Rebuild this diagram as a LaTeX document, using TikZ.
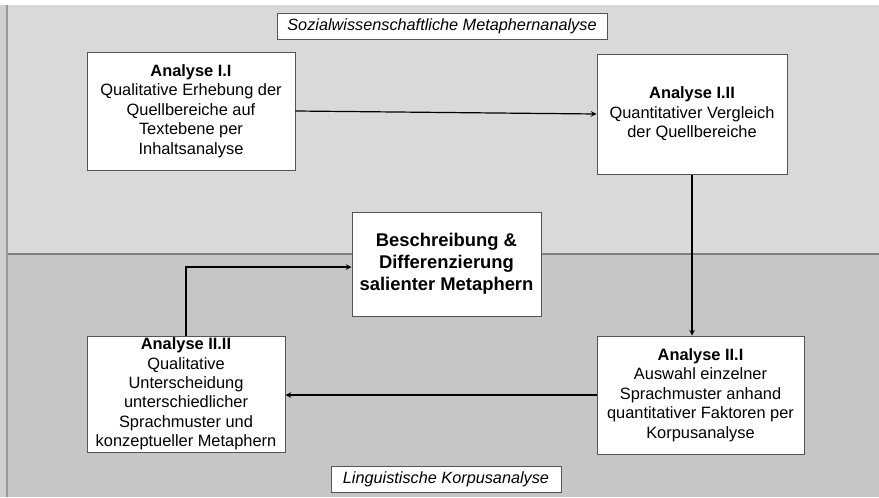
\documentclass[tikz,border=0pt]{standalone}
\usepackage{fontspec}
\setmainfont{Liberation Sans}
\usepackage{tikz}
\usetikzlibrary{shapes,arrows,positioning}

\definecolor{bandtop}{HTML}{D9D9D9}
\definecolor{bandbot}{HTML}{C6C6C6}
\definecolor{boxline}{HTML}{555555}

\tikzset{
  stepbox/.style={draw=boxline, fill=white, line width=0.75pt, align=center,
    inner sep=0pt, font=\fontsize{12.3}{14.6}\selectfont},
  bandlabel/.style={draw=boxline, fill=white, line width=0.75pt, inner sep=0pt,
    minimum height=19.5pt, font=\fontsize{12.2}{14}\selectfont\itshape}
}

\begin{document}
\begin{tikzpicture}[x=0.75pt, y=-0.75pt, ->, >=stealth, line width=0.9pt]

\useasboundingbox (0,0) rectangle (879,497);

% background
\fill[white] (0,0) rectangle (879,497);
\fill[bandtop!96!black] (0,5) rectangle (7,497);
\fill[bandtop] (7,5) rectangle (879,254);
\fill[bandbot] (7,254) rectangle (879,497);
\draw[-, gray, line width=0.8pt] (7,254) -- (879,254);
\draw[-, gray!80, line width=0.8pt] (7,5) -- (7,497);

\node [bandlabel, minimum width=247.5pt] (sozial) at (442,26) {Sozialwissenschaftliche Metaphernanalyse};
\node [bandlabel, minimum width=172.5pt] (korpus) at (446,479) {Linguistische Korpusanalyse};

\node [stepbox, minimum width=156pt, minimum height=88.5pt] (a11) at (191,111)
  {\textbf{Analyse I.I}\\Qualitative Erhebung der\\Quellbereiche auf\\Textebene per\\Inhaltsanalyse};
\node [stepbox, minimum width=142.5pt, minimum height=90pt] (a12) at (692,114)
  {\textbf{Analyse I.II}\\Quantitativer Vergleich\\der Quellbereiche};
\path (a11.east) edge (a12.west);

\node [stepbox, minimum width=155.25pt, minimum height=88.5pt] (a21) at (700.5,395)
  {\textbf{Analyse II.I}\\Auswahl einzelner\\Sprachmuster anhand\\quantitativer Faktoren per\\Korpusanalyse};
\path (a12.south) edge (a12.south |- a21.north);

\node [stepbox, minimum width=148.5pt, minimum height=87pt] (a22) at (186,394)
  {\textbf{Analyse II.II}\\Qualitative\\Unterscheidung\\unterschiedlicher\\Sprachmuster und\\konzeptueller Metaphern};
\path (a21.west) edge (a21.west -| a22.east);

\node [stepbox, minimum width=141.75pt, minimum height=78pt,
  font=\fontsize{13.8}{16.5}\selectfont\bfseries] (ergebnis) at (446.5,264)
  {Beschreibung \&\\Differenzierung\\salienter Metaphern};
\draw (a22.north) |- ([yshift=-2.25pt]ergebnis.west);

\end{tikzpicture}
\end{document}
